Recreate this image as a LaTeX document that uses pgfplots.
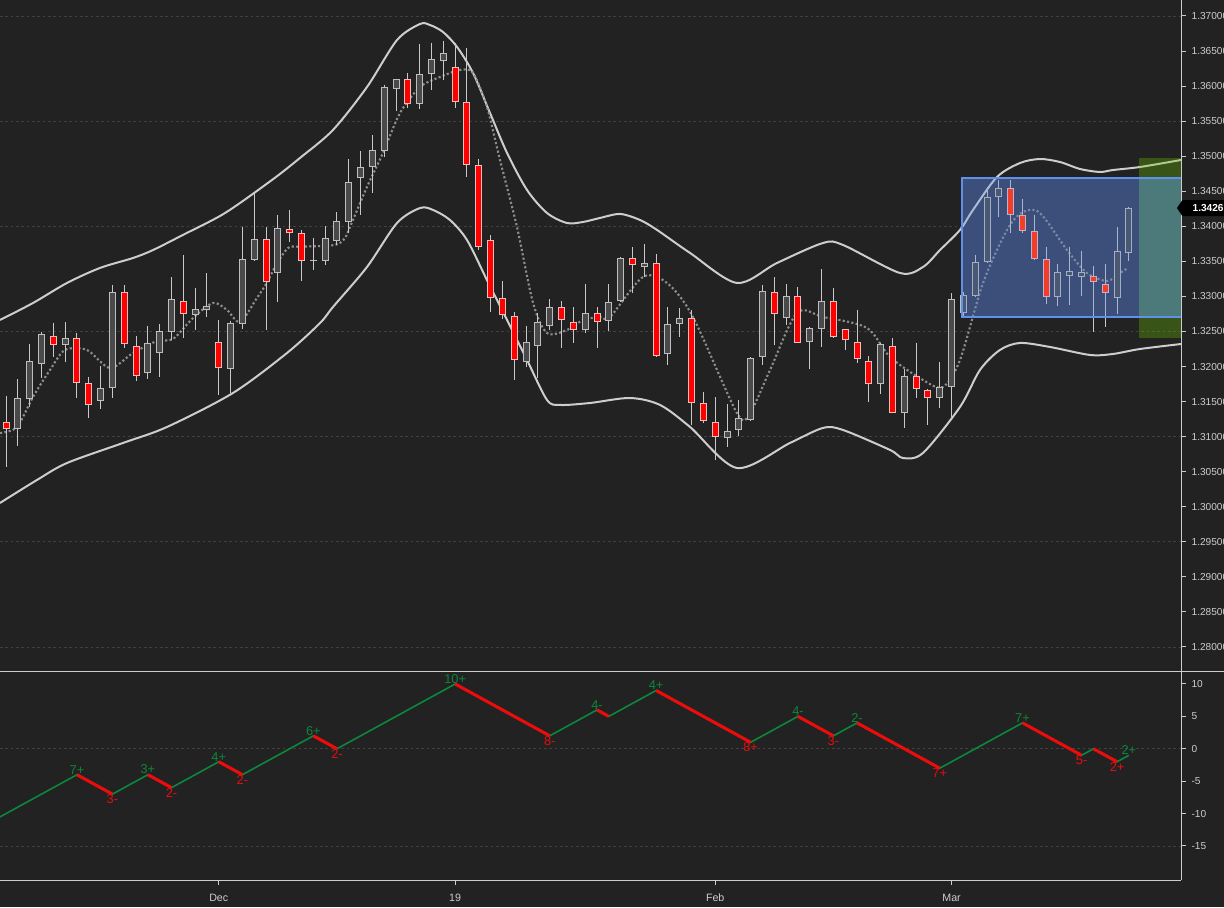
\documentclass[border=0pt]{standalone}
\usepackage{pgfplots}
\pgfplotsset{compat=1.18}
\usepackage{pgfplotstable}
\usepackage{fontspec}
\setmainfont{Liberation Sans}

\definecolor{bgc}{RGB}{34,34,34}
\definecolor{axisc}{RGB}{205,205,205}
\definecolor{gridc}{RGB}{64,64,64}
\definecolor{bandc}{RGB}{205,205,205}
\definecolor{mac}{RGB}{140,140,140}
\definecolor{wickc}{RGB}{200,200,200}
\definecolor{upfill}{RGB}{74,74,76}
\definecolor{upedge}{RGB}{190,190,190}
\definecolor{dnfill}{RGB}{255,0,0}
\definecolor{dnboxfill}{RGB}{240,62,42}
\definecolor{dnedge}{RGB}{235,190,190}
\definecolor{boxbase}{RGB}{52,62,86}
\definecolor{boxbaseb}{RGB}{57,75,156}
\definecolor{boxtint}{RGB}{80,130,230}
\definecolor{boxedge}{RGB}{95,145,235}
\definecolor{greentint}{RGB}{110,200,0}
\definecolor{zzgreen}{RGB}{12,135,60}
\definecolor{zzred}{RGB}{235,12,12}

\newcommand{\tickfont}{\fontsize{7.6pt}{9pt}\selectfont}
\newcommand{\datefont}{\fontsize{8pt}{9pt}\selectfont}
\newcommand{\zzfont}{\fontsize{9.6pt}{11pt}\selectfont}

% bullish candles: index open high low close
\pgfplotstableread{
i o h l c
1 1.31105 1.31822 1.30871 1.31547
2 1.31533 1.32322 1.31427 1.32079
3 1.32032 1.32497 1.31832 1.32460
5 1.32303 1.32635 1.32069 1.32403
8 1.31504 1.32008 1.31399 1.31690
9 1.31690 1.33163 1.31547 1.33059
12 1.31904 1.32578 1.31818 1.32332
13 1.32197 1.32607 1.31855 1.32503
14 1.32488 1.33273 1.32379 1.32959
16 1.32731 1.33116 1.32521 1.32817
17 1.32802 1.33330 1.32711 1.32859
19 1.31961 1.32654 1.31627 1.32617
20 1.32607 1.33995 1.32531 1.33530
21 1.33520 1.34461 1.33505 1.33815
23 1.33330 1.34162 1.32925 1.33972
26 1.33501 1.33829 1.33377 1.33520
27 1.33510 1.34005 1.33448 1.33829
28 1.33795 1.34204 1.33734 1.34076
29 1.34057 1.34956 1.33900 1.34628
30 1.34685 1.35074 1.34162 1.34842
31 1.34842 1.35303 1.34471 1.35089
32 1.35079 1.36016 1.34989 1.35983
33 1.35954 1.36101 1.35649 1.36097
35 1.35740 1.36600 1.35669 1.36173
36 1.36173 1.36619 1.35944 1.36382
37 1.36362 1.36648 1.36087 1.36468
44 1.32069 1.32578 1.31998 1.32354
45 1.32297 1.32759 1.31832 1.32640
46 1.32578 1.32963 1.32521 1.32845
49 1.32521 1.33177 1.32474 1.32768
51 1.32650 1.33177 1.32511 1.32916
52 1.32935 1.33558 1.32925 1.33544
54 1.33416 1.33748 1.33281 1.33473
56 1.32175 1.32845 1.32022 1.32603
57 1.32603 1.32831 1.32417 1.32688
61 1.30977 1.31466 1.30848 1.31085
62 1.31095 1.31523 1.31009 1.31262
63 1.31238 1.32132 1.31228 1.32118
64 1.32132 1.33163 1.32022 1.33082
66 1.32688 1.33177 1.32593 1.33006
68 1.32346 1.32568 1.31961 1.32546
69 1.32531 1.33387 1.32283 1.32939
74 1.31751 1.32330 1.31608 1.32322
76 1.31333 1.31961 1.31119 1.31869
79 1.31547 1.32065 1.31404 1.31713
80 1.31704 1.33045 1.31285 1.32959
81 1.32759 1.33063 1.32692 1.33016
82 1.33010 1.33591 1.32996 1.33487
83 1.33487 1.34557 1.33473 1.34414
84 1.34414 1.34661 1.34137 1.34542
89 1.32988 1.33463 1.32864 1.33344
90 1.33296 1.33709 1.32878 1.33358
91 1.33281 1.33652 1.33010 1.33344
94 1.32973 1.33995 1.32749 1.33648
95 1.33615 1.34270 1.33510 1.34260
}\tabBull

% bearish candles
\pgfplotstableread{
i o h l c
0 1.31213 1.31584 1.30563 1.31105
4 1.32440 1.32625 1.32140 1.32303
6 1.32403 1.32474 1.31556 1.31761
7 1.31761 1.31855 1.31262 1.31447
10 1.33059 1.33163 1.32269 1.32317
11 1.32297 1.32436 1.31798 1.31861
15 1.32931 1.33591 1.32411 1.32745
18 1.32346 1.32664 1.31594 1.31975
22 1.33815 1.33995 1.32521 1.33210
24 1.33958 1.34233 1.33781 1.33900
25 1.33900 1.33948 1.33224 1.33505
34 1.36097 1.36183 1.35683 1.35740
38 1.36268 1.36619 1.35692 1.35769
39 1.35769 1.36539 1.34699 1.34870
40 1.34870 1.34956 1.33662 1.33701
41 1.33805 1.33876 1.32782 1.32973
42 1.32973 1.33220 1.32678 1.32731
43 1.32721 1.32782 1.31808 1.32093
47 1.32845 1.32935 1.32260 1.32664
48 1.32640 1.32845 1.32340 1.32521
50 1.32759 1.32845 1.32260 1.32640
53 1.33544 1.33701 1.33045 1.33448
55 1.33473 1.33605 1.32140 1.32150
58 1.32688 1.32807 1.31166 1.31476
59 1.31476 1.31633 1.31199 1.31228
60 1.31213 1.31561 1.30667 1.30991
65 1.33059 1.33273 1.32307 1.32745
67 1.33006 1.33130 1.32332 1.32340
70 1.32939 1.33116 1.32410 1.32417
71 1.32531 1.32540 1.32236 1.32379
72 1.32346 1.32807 1.32055 1.32103
73 1.32083 1.32150 1.31499 1.31751
75 1.32297 1.32403 1.31335 1.31342
77 1.31869 1.32340 1.31547 1.31675
78 1.31665 1.31675 1.31166 1.31547
85 1.34542 1.34661 1.33900 1.34157
86 1.34157 1.34390 1.33900 1.33933
87 1.33933 1.34162 1.33520 1.33530
88 1.33530 1.33709 1.32892 1.32988
92 1.33296 1.33434 1.32497 1.33202
93 1.33173 1.33463 1.32568 1.33045
}\tabBear

\pgfplotstableread{
x y
-0.51 1.32664
2.28 1.32906
5.16 1.33192
7.95 1.33406
10.74 1.33548
12.44 1.33662
15.00 1.33880
18.53 1.34190
22.50 1.34661
24.87 1.34975
27.66 1.35374
30.54 1.35987
33.08 1.36657
35.03 1.36886
35.87 1.36871
36.97 1.36772
38.16 1.36558
39.51 1.36187
40.95 1.35616
42.39 1.35046
44.08 1.34518
45.77 1.34190
47.46 1.34047
48.82 1.34062
50.25 1.34119
51.95 1.34176
53.64 1.34090
55.08 1.33948
57.87 1.33620
61.84 1.33192
65.23 1.33477
69.12 1.33762
70.81 1.33734
75.63 1.33334
77.58 1.33420
79.02 1.33662
80.71 1.33948
81.81 1.34233
83.84 1.34703
85.79 1.34903
87.48 1.34960
89.17 1.34917
90.86 1.34818
92.55 1.34775
93.65 1.34803
95.94 1.34846
99.41 1.34946
}\tabUpper

\pgfplotstableread{
x y
-0.51 1.30054
2.62 1.30382
5.16 1.30624
9.90 1.30910
13.62 1.31138
19.20 1.31623
23.77 1.32193
26.57 1.32621
27.66 1.32849
30.54 1.33420
33.08 1.34047
35.03 1.34261
36.13 1.34233
37.56 1.34090
39.00 1.33805
40.69 1.33234
42.39 1.32664
44.08 1.32093
45.77 1.31523
46.87 1.31452
49.41 1.31480
52.79 1.31551
55.33 1.31452
57.87 1.31138
61.84 1.30553
66.33 1.30910
69.12 1.31124
70.81 1.31095
74.79 1.30810
75.89 1.30695
77.58 1.30767
80.71 1.31423
82.40 1.31951
84.09 1.32236
85.79 1.32336
88.32 1.32279
91.71 1.32165
93.65 1.32179
95.94 1.32250
99.41 1.32321
}\tabLower

\pgfplotstableread{
x y
-0.51 1.31052
0.93 1.31138
2.28 1.31566
3.72 1.31951
4.99 1.32236
6.85 1.32236
8.80 1.31979
10.74 1.32193
12.77 1.32364
14.13 1.32393
15.82 1.32692
17.51 1.32906
18.70 1.32806
19.80 1.32635
21.21 1.32973
22.06 1.33192
22.76 1.33420
23.86 1.33691
25.02 1.33709
27.83 1.33734
28.68 1.33833
29.10 1.33990
30.54 1.34561
31.89 1.35046
33.33 1.35616
35.03 1.35987
36.72 1.36130
38.41 1.36230
39.51 1.36187
40.69 1.35702
41.79 1.34946
43.23 1.33990
44.59 1.32906
45.77 1.32478
47.46 1.32521
48.82 1.32664
50.25 1.32707
51.10 1.32707
53.89 1.33277
55.92 1.33192
58.12 1.32707
61.84 1.31337
62.94 1.31337
64.64 1.31951
66.92 1.32764
69.12 1.32707
72.84 1.32550
74.79 1.32136
77.58 1.31808
79.27 1.31708
80.71 1.32093
82.66 1.33192
84.69 1.33948
86.04 1.34204
87.48 1.34190
89.76 1.33662
91.46 1.33334
93.15 1.33220
94.25 1.33334
94.92 1.33406
}\tabMA

\pgfplotstableread{
x y
-1 -11
6 -4
9 -7
12 -4
14 -6
18 -2
20 -4
26 2
28 0
38 10
46 2
50 6
51 5
55 9
63 1
67 5
70 2
72 4
79 -3
86 4
91 -1
92 0
94 -2
95 -1
}\tabZZ

\pgfplotstableread{
x y
6 -4
9 -7
10 nan
12 -4
14 -6
15 nan
18 -2
20 -4
21 nan
26 2
28 0
29 nan
38 10
46 2
47 nan
50 6
51 5
52 nan
55 9
63 1
64 nan
67 5
70 2
71 nan
72 4
79 -3
80 nan
86 4
91 -1
91.5 nan
92 0
94 -2
}\tabZZred

\pgfplotstableread{
x y lab
6 -4 7+
12 -4 3+
18 -2 4+
26 2 6+
38 10 10+
50 6 4-
55 9 4+
67 5 4-
72 4 2-
86 4 7+
95 -1 2+
}\tabPeaks

\pgfplotstableread{
x y lab
9 -7 3-
14 -6 2-
20 -4 2-
28 0 2-
46 2 8-
63 1 8+
70 2 3-
79 -3 7+
91 -1 5-
94 -2 2+
}\tabTroughs

\pgfplotsset{
  panel/.style={
    scale only axis, width=885.75pt, anchor=south west,
    xmin=-0.51, xmax=99.41,
    axis x line*=bottom, axis y line*=right,
    axis line style={-, draw=axisc, line width=0.75pt},
    tick align=outside, major tick length=3.75pt,
    tick style={draw=axisc, line width=0.75pt},
    yticklabel style={font=\tickfont, text=axisc, anchor=west, inner sep=0pt, xshift=4pt},
    xticklabel style={font=\datefont, text=axisc},
    extra y tick labels={},
    extra y tick style={grid=major, major grid style={draw=gridc, dash pattern=on 2pt off 2pt, line width=0.5pt}},
    no markers,
  },
  wick/.style={draw=none, mark=none,
    error bars/.cd, y dir=minus, y explicit, error mark=none,
    error mark options={opacity=0, scale=0.01},
    error bar style={draw=wickc, line width=0.75pt}},
  body/.style={draw=none, mark=none,
    error bars/.cd, y dir=minus, y explicit, error mark=none,
    error mark options={opacity=0, scale=0.01},
    error bar style={draw=#1, line width=5.25pt}},
  inner/.style={draw=none, mark=none,
    error bars/.cd, y dir=minus, y explicit, error mark=none,
    error mark options={opacity=0, scale=0.01},
    error bar style={draw=#1, line width=3.75pt}},
}

\begin{document}
\begin{tikzpicture}
\useasboundingbox (0,0) rectangle (918pt,680.25pt);
\fill[bgc] (0,0) rectangle (918pt,680.25pt);

\begin{axis}[panel,
  at={(0pt,176.25pt)}, height=504pt,
  ymin=1.27643, ymax=1.37228,
  xtick=\empty,
  ytick={1.280,1.285,1.290,1.295,1.300,1.305,1.310,1.315,1.320,1.325,1.330,1.335,1.340,1.345,1.350,1.355,1.360,1.365,1.370},
  yticklabels={1.28000,1.28500,1.29000,1.29500,1.30000,1.30500,1.31000,1.31500,1.32000,1.32500,1.33000,1.33500,1.34000,1.34500,1.35000,1.35500,1.36000,1.36500,1.37000},
  extra y ticks={1.280,1.295,1.310,1.325,1.340,1.355,1.370},
]
\addplot[fill=boxbase, draw=none] coordinates {(80.88,1.32711) (95.85,1.32711) (95.85,1.34694) (80.88,1.34694)};
\addplot[fill=boxbaseb, draw=none] coordinates {(95.85,1.32711) (99.41,1.32711) (99.41,1.34694) (95.85,1.34694)};
\addplot[bandc, line width=1.5pt, smooth, tension=0.5] table[x=x,y=y] {\tabUpper};
\addplot[bandc, line width=1.5pt, smooth, tension=0.5] table[x=x,y=y] {\tabLower};
\addplot[mac, line width=1.6pt, dash pattern=on 1.6pt off 1.7pt, smooth, tension=0.5] table[x=x,y=y] {\tabMA};
\addplot[wick] table[x=i, y=h, y error minus expr=\thisrow{h}-\thisrow{l}] {\tabBull};
\addplot[wick] table[x=i, y=h, y error minus expr=\thisrow{h}-\thisrow{l}] {\tabBear};
\addplot[body=upedge] table[x=i, y=c, y error minus expr=\thisrow{c}-\thisrow{o}] {\tabBull};
\addplot[inner=upfill] table[x=i, y expr=\thisrow{c}-0.000143, y error minus expr={max(\thisrow{c}-\thisrow{o}-0.000286,0)}] {\tabBull};
\addplot[body=dnedge] table[x=i, y=o, y error minus expr=\thisrow{o}-\thisrow{c}] {\tabBear};
\addplot[inner=dnfill] table[x=i, y expr=\thisrow{o}-0.000143, y error minus expr={max(\thisrow{o}-\thisrow{c}-0.000286,0)}] {\tabBear};
\addplot[fill=boxtint, fill opacity=0.25, draw=none] coordinates {(80.88,1.32711) (99.41,1.32711) (99.41,1.34694) (80.88,1.34694)};
\addplot[restrict x to domain=80.5:100, inner=dnboxfill] table[x=i, y expr=\thisrow{o}-0.000143, y error minus expr={max(\thisrow{o}-\thisrow{c}-0.000286,0)}] {\tabBear};
\addplot[fill=greentint, fill opacity=0.3, draw=none] coordinates {(95.85,1.32403) (99.41,1.32403) (99.41,1.34970) (95.85,1.34970)};
\addplot[draw=boxedge, line width=1.3pt] coordinates {(99.6,1.34694) (80.88,1.34694) (80.88,1.32711) (99.6,1.32711)};
\coordinate (pl) at (axis cs:99.41,1.3426);
\end{axis}

\begin{axis}[panel,
  at={(0pt,20.25pt)}, height=156pt,
  ymin=-20.25, ymax=11.85,
  ytick={-15,-10,-5,0,5,10},
  yticklabels={-15,-10,-5,0,5,10},
  extra y ticks={-15,0},
  xtick={18,38,60,80},
  xticklabels={Dec,19,Feb,Mar},
  xticklabel style={anchor=north, inner sep=0pt, yshift=-6.5pt},
]
\addplot[zzgreen, line width=1.2pt] table[x=x,y=y] {\tabZZ};
\addplot[zzred, line width=2.3pt, unbounded coords=jump] table[x=x,y=y] {\tabZZred};
\addplot[only marks, mark=none, nodes near coords, point meta=explicit symbolic,
  nodes near coords align={above},
  every node near coord/.append style={font=\zzfont, text=zzgreen, inner sep=0.3pt}]
  table[x=x, y=y, meta=lab] {\tabPeaks};
\addplot[only marks, mark=none, nodes near coords, point meta=explicit symbolic,
  nodes near coords align={below},
  every node near coord/.append style={font=\zzfont, text=zzred, inner sep=0.3pt}]
  table[x=x, y=y, meta=lab] {\tabTroughs};
\end{axis}

\draw[axisc, line width=0.75pt] (885.75pt,176.25pt) -- (918pt,176.25pt);
\fill[black] ([xshift=-3pt]pl) -- ([xshift=1pt,yshift=6pt]pl) -- ([xshift=40pt,yshift=6pt]pl) -- ([xshift=40pt,yshift=-6pt]pl) -- ([xshift=1pt,yshift=-6pt]pl) -- cycle;
\node[anchor=west, inner sep=0pt, text=white, font=\bfseries\tickfont] at ([xshift=8.5pt]pl) {1.3426};
\end{tikzpicture}
\end{document}
